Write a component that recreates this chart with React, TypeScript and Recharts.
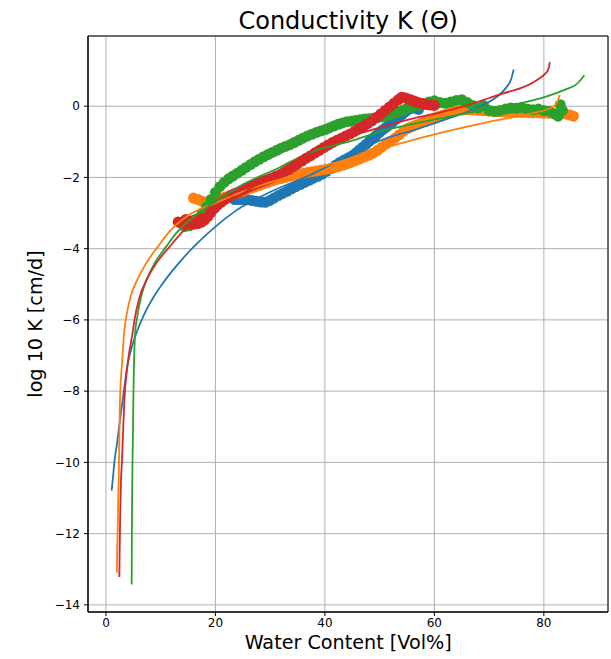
import React from 'react';
import { ScatterChart, Scatter, XAxis, YAxis, CartesianGrid, ReferenceArea } from 'recharts';

const xTicks = [0, 20, 40, 60, 80];
const yTicks = [-14, -12, -10, -8, -6, -4, -2, 0];

const BLUE = '#1f77b4';
const ORANGE = '#ff7f0e';
const GREEN = '#2ca02c';
const RED = '#d62728';

// measured (thick scatter bands)
const blueMeasured: [number, number][] = [
  [23.5,-2.62],[24.3,-2.62],[25.1,-2.62],[25.9,-2.63],[26.7,-2.65],[27.5,-2.67],[28.3,-2.69],[29.1,-2.70],
  [29.9,-2.65],[30.7,-2.58],[31.5,-2.51],[32.3,-2.45],[33.1,-2.39],[33.9,-2.32],[34.7,-2.26],[35.5,-2.20],
  [36.3,-2.14],[37.1,-2.08],[37.9,-2.02],[38.7,-1.97],[39.5,-1.91],[40.3,-1.83],[41.1,-1.75],[41.9,-1.66],
  [42.7,-1.58],[43.5,-1.51],[44.3,-1.45],[45.1,-1.38],[45.7,-1.31],[46.3,-1.23],[46.9,-1.15],[47.5,-1.07],
  [48.1,-0.99],[48.7,-0.91],[49.3,-0.83],[49.9,-0.75],[50.5,-0.67],[51.1,-0.60],[51.7,-0.53],[52.3,-0.46],
  [52.9,-0.38],[53.5,-0.31],[54.1,-0.24],[54.7,-0.16],[55.3,-0.09],[55.9,-0.05],[56.5,-0.06],[57.1,-0.09],
];

const orangeMeasured: [number, number][] = [
  [16.0,-2.58],[16.8,-2.62],[17.6,-2.67],[18.4,-2.70],[19.2,-2.68],[20.0,-2.64],[20.8,-2.60],[21.6,-2.56],
  [22.4,-2.52],[23.2,-2.48],[24.0,-2.44],[24.8,-2.40],[25.6,-2.35],[26.4,-2.31],[27.2,-2.27],[28.0,-2.23],
  [28.8,-2.18],[29.6,-2.14],[30.4,-2.10],[31.2,-2.06],[32.0,-2.03],[32.8,-2.00],[33.6,-1.97],[34.4,-1.94],
  [35.2,-1.92],[36.0,-1.89],[36.8,-1.86],[37.6,-1.84],[38.4,-1.82],[39.2,-1.80],[40.0,-1.78],[40.8,-1.76],
  [41.6,-1.73],[42.4,-1.70],[43.2,-1.66],[44.0,-1.62],[44.8,-1.58],[45.6,-1.53],[46.4,-1.48],[47.2,-1.43],
  [48.0,-1.38],[48.8,-1.32],[49.6,-1.24],[50.4,-1.15],[51.2,-1.06],[52.0,-0.98],[52.8,-0.90],[53.6,-0.80],
  [54.4,-0.70],[55.2,-0.62],[56.0,-0.57],[56.8,-0.52],[57.6,-0.47],[58.4,-0.42],[59.2,-0.37],[60.0,-0.33],
  [60.8,-0.29],[61.6,-0.25],[62.4,-0.21],[63.2,-0.17],[64.0,-0.13],[65.0,-0.11],[66.0,-0.10],[67.0,-0.11],
  [68.0,-0.12],[69.0,-0.13],[70.0,-0.14],[71.0,-0.15],[72.0,-0.16],[73.0,-0.17],[74.0,-0.17],[75.0,-0.18],
  [76.0,-0.18],[77.0,-0.18],[78.0,-0.19],[79.0,-0.19],[80.0,-0.20],[81.0,-0.20],[82.0,-0.21],[83.0,-0.22],
  [84.0,-0.22],[84.8,-0.25],[85.4,-0.28],
];

const greenMeasured: [number, number][] = [
  [14.4,-3.38],[15.2,-3.36],[16.0,-3.30],[16.8,-3.15],[17.6,-3.00],[18.4,-2.82],[19.2,-2.62],[20.0,-2.42],
  [20.8,-2.26],[21.6,-2.14],[22.4,-2.04],[23.2,-1.96],[24.0,-1.88],[24.8,-1.80],[25.6,-1.72],[26.4,-1.64],
  [27.2,-1.56],[28.0,-1.49],[28.8,-1.42],[29.6,-1.36],[30.4,-1.30],[31.2,-1.24],[32.0,-1.18],[32.8,-1.13],
  [33.6,-1.08],[34.4,-1.02],[35.2,-0.96],[36.0,-0.90],[36.8,-0.84],[37.6,-0.79],[38.4,-0.74],[39.2,-0.70],
  [40.0,-0.66],[40.8,-0.61],[41.6,-0.56],[42.4,-0.51],[43.2,-0.47],[44.0,-0.44],[44.8,-0.42],[45.6,-0.40],
  [46.4,-0.38],[47.2,-0.36],[48.0,-0.35],[48.8,-0.34],[49.6,-0.32],[50.4,-0.30],[51.2,-0.27],[52.0,-0.24],
  [52.8,-0.20],[53.6,-0.15],[54.4,-0.10],[55.2,-0.05],[56.0,-0.02],[57.0,0.02],[58.0,0.06],[59.0,0.12],
  [60.0,0.15],[61.0,0.10],[62.0,0.08],[63.0,0.12],[64.0,0.16],[65.0,0.18],[66.0,0.10],[67.0,0.02],
  [68.0,-0.05],[69.0,0.02],[70.0,-0.12],[71.0,-0.15],[72.0,-0.12],[73.0,-0.08],[74.0,-0.05],[75.0,-0.06],
  [76.0,-0.04],[77.0,-0.08],[78.0,-0.10],[79.0,-0.08],[80.0,-0.12],[81.0,-0.14],[82.0,-0.22],[82.6,-0.28],
  [83.0,0.04],[83.4,-0.12],
];

const redMeasured: [number, number][] = [
  [13.2,-3.25],[13.8,-3.28],[14.4,-3.30],[15.0,-3.30],[15.6,-3.31],[16.2,-3.31],[16.8,-3.30],[17.4,-3.26],
  [14.6,-3.18],[16.0,-3.20],[17.2,-3.16],
  [18.0,-3.20],[18.6,-3.10],[19.2,-2.98],[19.8,-2.87],[20.4,-2.78],[21.0,-2.70],[21.6,-2.63],[22.2,-2.57],
  [22.8,-2.51],[23.4,-2.46],[24.0,-2.42],[24.6,-2.38],[25.4,-2.32],[26.2,-2.26],[27.0,-2.21],[27.8,-2.16],
  [28.6,-2.11],[29.4,-2.07],[30.2,-2.02],[31.0,-1.97],[31.8,-1.92],[32.6,-1.85],[33.4,-1.78],[34.2,-1.70],
  [35.0,-1.62],[35.8,-1.54],[36.6,-1.46],[37.4,-1.39],[38.2,-1.31],[39.0,-1.24],[39.8,-1.16],[40.6,-1.09],
  [41.4,-1.02],[42.2,-0.96],[43.0,-0.90],[43.8,-0.84],[44.6,-0.78],[45.4,-0.71],[46.2,-0.64],[47.0,-0.57],
  [47.8,-0.49],[48.6,-0.41],[49.4,-0.32],[50.2,-0.22],[51.0,-0.12],[51.8,-0.02],[52.6,0.08],[53.4,0.18],
  [54.0,0.25],[54.6,0.24],[55.2,0.20],[55.8,0.17],[56.4,0.14],[57.0,0.10],[57.6,0.08],[58.2,0.06],
  [58.8,0.04],[59.4,0.03],[60.0,0.02],
];

// fitted curves (thin lines)
const blueFit: [number, number][] = [
  [1.04,-10.79],[1.3,-10.4],[1.53,-10.0],[2.0,-9.5],[2.4,-9.0],[3.05,-8.26],[3.97,-7.23],[4.9,-6.67],
  [5.8,-6.27],[6.9,-5.87],[8.85,-5.32],[10.3,-4.99],[12.2,-4.61],[14.3,-4.23],[16.8,-3.83],[20.0,-3.38],
  [23.5,-2.96],[30.0,-2.41],[37.2,-1.94],[44.0,-1.42],[50.0,-0.97],[57.3,-0.62],[63.4,-0.3],[67.0,-0.1],
  [69.5,0.08],[71.5,0.27],[73.0,0.5],[74.0,0.75],[74.5,1.03],
];

const orangeFit: [number, number][] = [
  [2.0,-13.1],[2.05,-12.5],[2.14,-11.9],[2.25,-11.0],[2.38,-10.0],[2.56,-8.26],[2.93,-7.23],[3.36,-6.29],
  [3.66,-5.96],[4.46,-5.36],[5.8,-4.85],[7.3,-4.42],[9.45,-3.95],[11.6,-3.52],[15.0,-3.07],[20.0,-2.72],
  [25.0,-2.4],[33.6,-1.97],[45.0,-1.45],[57.3,-0.9],[63.0,-0.68],[70.0,-0.44],[76.0,-0.26],[79.0,-0.16],
  [80.5,-0.1],[81.7,-0.02],[82.4,0.1],[82.9,0.31],
];

const greenFit: [number, number][] = [
  [4.7,-13.43],[4.72,-12.5],[4.78,-11.0],[4.85,-10.0],[4.95,-9.0],[5.0,-8.26],[5.12,-7.23],[5.37,-6.29],
  [5.67,-5.96],[6.4,-5.36],[7.5,-4.85],[8.85,-4.42],[10.97,-3.95],[12.8,-3.57],[16.8,-3.02],[20.0,-2.68],
  [25.0,-2.2],[31.7,-1.72],[37.2,-1.3],[45.0,-0.97],[50.0,-0.72],[57.3,-0.46],[65.0,-0.22],[70.0,-0.08],
  [75.6,0.08],[80.0,0.25],[84.0,0.47],[86.0,0.62],[87.4,0.87],
];

const redFit: [number, number][] = [
  [2.45,-13.22],[2.5,-12.5],[2.6,-11.5],[2.75,-10.5],[2.93,-9.94],[3.36,-8.26],[3.97,-7.23],[4.88,-6.35],
  [5.19,-6.02],[6.1,-5.38],[7.5,-4.85],[9.14,-4.42],[11.6,-3.95],[14.3,-3.48],[20.0,-2.93],[25.0,-2.45],
  [32.0,-1.78],[39.7,-1.08],[44.2,-0.86],[50.0,-0.6],[57.3,-0.3],[61.0,-0.18],[66.0,0.03],[72.6,0.36],
  [76.0,0.52],[78.7,0.73],[80.3,0.92],[80.8,1.03],[81.1,1.24],
];

const toPts = (a: [number, number][]) => a.map(([x, y]) => ({ x, y }));

const measured = [
  { data: blueMeasured, color: BLUE },
  { data: orangeMeasured, color: ORANGE },
  { data: greenMeasured, color: GREEN },
  { data: redMeasured, color: RED },
];
const fits = [
  { data: blueFit, color: BLUE },
  { data: orangeFit, color: ORANGE },
  { data: greenFit, color: GREEN },
  { data: redFit, color: RED },
];

const FONT = '"DejaVu Sans", sans-serif';
const tickStyle = { fontFamily: FONT, fontSize: 12, fill: '#000' };
const fmtY = (v: number) => (v < 0 ? '\u2212' + Math.abs(v) : String(v));

const X_DOMAIN: [number, number] = [-3.28, 91.72];
const Y_DOMAIN: [number, number] = [-14.2, 1.97];

export default function App() {
  return (
    <div style={{ position: 'absolute', left: 0, top: 0, width: 611, height: 659, overflow: 'hidden', background: '#fff' }}>
      <ScatterChart width={611} height={659} margin={{ top: 36, right: 3, bottom: 0, left: 0 }}>
        <CartesianGrid stroke="#b0b0b0" strokeWidth={1} />
        <XAxis
          type="number"
          dataKey="x"
          domain={X_DOMAIN}
          ticks={xTicks}
          height={47}
          allowDataOverflow
          tick={tickStyle}
          tickSize={4}
          tickMargin={2}
          tickLine={{ stroke: '#000' }}
          axisLine={{ stroke: '#000' }}
        />
        <YAxis
          type="number"
          dataKey="y"
          domain={Y_DOMAIN}
          ticks={yTicks}
          width={88}
          allowDataOverflow
          tick={tickStyle}
          tickSize={4}
          tickMargin={4}
          tickFormatter={fmtY}
          tickLine={{ stroke: '#000' }}
          axisLine={{ stroke: '#000' }}
        />
        <ReferenceArea x1={X_DOMAIN[0]} x2={X_DOMAIN[1]} y1={Y_DOMAIN[0]} y2={Y_DOMAIN[1]} fill="none" stroke="#000" strokeWidth={1} />
        {measured.map((s, i) => (
          <Scatter
            key={'m' + i}
            data={toPts(s.data)}
            fill={s.color}
            isAnimationActive={false}
            shape={(p: any) => <circle cx={p.cx} cy={p.cy} r={5.5} fill={s.color} />}
          />
        ))}
        {fits.map((s, i) => (
          <Scatter
            key={'f' + i}
            data={toPts(s.data)}
            fill="none"
            line={{ stroke: s.color, strokeWidth: 1.8 }}
            lineJointType="monotoneX"
            isAnimationActive={false}
            shape={() => <g />}
          />
        ))}
      </ScatterChart>
      <svg
        width={611}
        height={659}
        style={{ position: 'absolute', left: 0, top: 0, pointerEvents: 'none' }}
      >
        <text x={348.2} y={28.7} textAnchor="middle" fontFamily={FONT} fontSize={24} fill="#000">
          Conductivity K (Θ)
        </text>
        <text x={348.2} y={649} textAnchor="middle" fontFamily={FONT} fontSize={19.2} fill="#000">
          Water Content [Vol%]
        </text>
        <text
          x={0}
          y={0}
          transform="translate(42,324) rotate(-90)"
          textAnchor="middle"
          fontFamily={FONT}
          fontSize={19.2}
          fill="#000"
        >
          log 10 K [cm/d]
        </text>
      </svg>
    </div>
  );
}
